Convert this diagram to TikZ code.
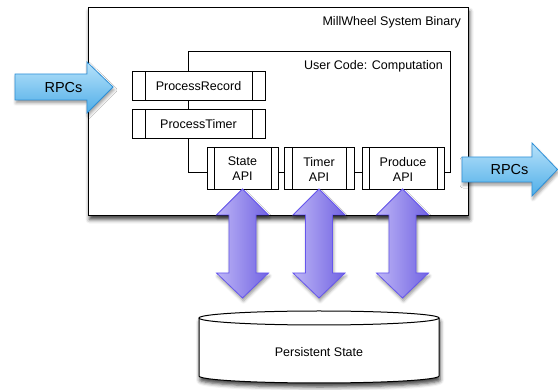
\documentclass[tikz,border=0pt]{standalone}
\usepackage{fontspec}
\setmainfont{Liberation Sans}
\usetikzlibrary{shadows.blur}
\definecolor{rpclight}{HTML}{B8E2FA}
\definecolor{rpcdark}{HTML}{4FAEE8}
\definecolor{rpcedge}{HTML}{2E90D8}
\definecolor{apilight}{HTML}{BDB5F6}
\definecolor{apidark}{HTML}{7264E2}
\definecolor{apiedge}{HTML}{6656EE}
\tikzset{
  lbl/.style={font=\fontsize{12.5}{15}\selectfont, inner sep=0pt, align=center},
  rpclbl/.style={font=\fontsize{14.5}{16}\selectfont, inner sep=0pt},
  mainline/.style={draw=black, line width=1pt},
  softshadow/.style={blur shadow={shadow xshift=1pt, shadow yshift=-4pt, shadow blur radius=4pt, shadow opacity=75}},
  lightshadow/.style={blur shadow={shadow xshift=1pt, shadow yshift=-3pt, shadow blur radius=3pt, shadow opacity=40}},
  barbox/.style n args={3}{mainline, fill=white, minimum width=#1pt, minimum height=#2pt, inner sep=0pt,
    font=\fontsize{12.5}{15}\selectfont, align=center,
    path picture={
      \draw[line width=1pt] ([xshift=#3pt]path picture bounding box.north west) -- ([xshift=#3pt]path picture bounding box.south west);
      \draw[line width=1pt] ([xshift=-#3pt]path picture bounding box.north east) -- ([xshift=-#3pt]path picture bounding box.south east);
    }},
  rpcarrow/.style={top color=rpclight, bottom color=rpcdark, draw=rpcedge, line width=0.8pt, line join=miter, lightshadow},
  apiarrow/.style={left color=apilight, right color=apidark, draw=apiedge, line width=0.8pt, line join=miter, lightshadow},
}
\begin{document}
\begin{tikzpicture}[x=1pt,y=-1pt]
\useasboundingbox (0,0) rectangle (558,390);

% outer binary box
\node[mainline, fill=white, softshadow, anchor=north west, minimum width=380pt, minimum height=208pt, inner sep=0pt] (binary) at (88,7) {};
\node[lbl, anchor=east] (binarylbl) at (461,22) {MillWheel System Binary};

% user code box
\node[mainline, anchor=north west, minimum width=262pt, minimum height=121pt, inner sep=0pt] (usercode) at (188,51) {};
\node[lbl, anchor=east] (userlbl) at (443,66) {User Code: Computation};

% process boxes
\node[barbox={133}{29}{13}] (precord) at (198.5,86.5) {ProcessRecord};
\node[barbox={133}{29}{13}] (ptimer) at (198.5,124.5) {ProcessTimer};

% API boxes
\node[barbox={71}{42}{7}] (state) at (242.5,169) {State\\API};
\node[barbox={70}{42}{8}] (timer) at (319,169) {Timer\\API};
\node[barbox={82}{42}{7}] (produce) at (403,169) {Produce\\API};

% RPC arrows
\path[rpcarrow] (15,74) -- (87,74) -- (87,62) -- (113,87) -- (87,113) -- (87,100) -- (15,100) -- cycle;
\node[rpclbl] (rpcin) at (63.5,87.5) {RPCs};
\path[rpcarrow] (462,157) -- (532,157) -- (532,143) -- (557.5,169.5) -- (532,196) -- (532,182) -- (462,182) -- cycle;
\node[rpclbl] (rpcout) at (509.5,169.5) {RPCs};

% persistent state cylinder
\fill[white, softshadow] (199,318) -- (199,376) arc[start angle=180, end angle=360, x radius=120pt, y radius=7pt] -- (439,318) arc[start angle=0, end angle=180, x radius=120pt, y radius=7pt] -- cycle;
\draw[mainline] (199,318) -- (199,376) arc[start angle=180, end angle=360, x radius=120pt, y radius=7pt] -- (439,318);
\draw[mainline] (319,318) ellipse[x radius=120pt, y radius=7pt];
\node[lbl] (store) at (319,352) {Persistent State};

% API <-> storage double arrows
\foreach \cx in {242.5,319,402.5}{
  \path[apiarrow] (\cx,189) -- ({\cx+26},215) -- ({\cx+13.5},215) -- ({\cx+13.5},273) -- ({\cx+26},273) -- (\cx,298)
    -- ({\cx-26},273) -- ({\cx-13.5},273) -- ({\cx-13.5},215) -- ({\cx-26},215) -- cycle;
}
\end{tikzpicture}
\end{document}
